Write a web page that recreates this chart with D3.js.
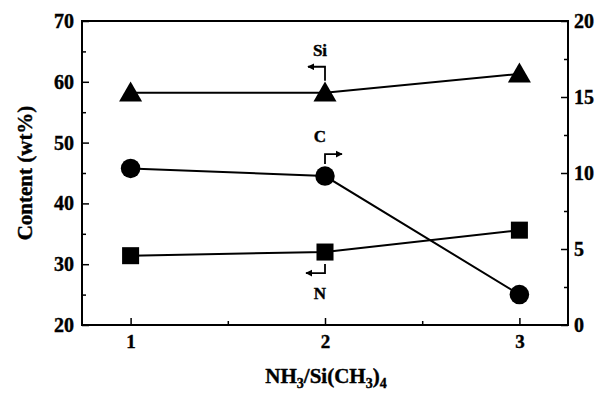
<!DOCTYPE html>
<html>
<head>
<meta charset="utf-8">
<script src="https://cdn.jsdelivr.net/npm/d3@7"></script>
<style>
  body { margin: 0; background: #fff; }
  text { font-family: "Liberation Serif", "Times New Roman", serif; font-weight: bold; fill: #000; stroke: #000; stroke-width: 0.4px; }
</style>
</head>
<body>
<svg id="chart" width="609" height="394"></svg>
<script>
// data
const ratio = [1, 2, 3]
const si = [58.2, 58.2, 61.3]      // wt%, left axis
const n  = [31.4, 32.0, 35.6]      // wt%, left axis
const c  = [10.3, 9.8, 2.0]        // right axis
const xTicks = [1, 2, 3]
const leftTicks = [20, 30, 40, 50, 60, 70]
const rightTicks = [0, 5, 10, 15, 20]

const svg = d3.select('#chart')
const m = {left: 82, right: 568, top: 21, bottom: 325}

const x = d3.scaleLinear().domain([0.75, 3.25]).range([m.left, m.right])
const yL = d3.scaleLinear().domain([20, 70]).range([m.bottom, m.top])
const yR = d3.scaleLinear().domain([0, 20]).range([m.bottom, m.top])

// frame
svg.append('rect')
  .attr('x', m.left).attr('y', m.top)
  .attr('width', m.right - m.left).attr('height', m.bottom - m.top)
  .attr('fill', 'none').attr('stroke', '#000').attr('stroke-width', 2)

function style_axis(g, size) {
  g.select('.domain').remove()
  g.selectAll('line').attr('stroke', '#000').attr('stroke-width', 1.5)
  g.selectAll('text').style('font-size', size + 'px')
}

// minor ticks first, then labelled majors
svg.append('g').attr('transform', `translate(0,${m.bottom})`)
  .call(d3.axisTop(x).tickValues([1.5, 2.5]).tickSize(4).tickFormat(''))
  .call(g => style_axis(g, 16))
svg.append('g').attr('transform', `translate(0,${m.bottom})`)
  .call(d3.axisBottom(x).tickValues(xTicks).tickSize(0).tickPadding(10).tickFormat(d3.format('d')))
  .call(g => style_axis(g, 19))
svg.append('g').attr('transform', `translate(0,${m.bottom})`)
  .call(d3.axisTop(x).tickValues(xTicks).tickSize(7).tickFormat(''))
  .call(g => style_axis(g, 16))

svg.append('g').attr('transform', `translate(${m.left},0)`)
  .call(d3.axisRight(yL).tickValues([25, 35, 45, 55, 65]).tickSize(4).tickFormat(''))
  .call(g => style_axis(g, 16))
svg.append('g').attr('transform', `translate(${m.left},0)`)
  .call(d3.axisRight(yL).tickValues(leftTicks).tickSize(7).tickFormat(''))
  .call(g => style_axis(g, 16))
svg.append('g').attr('transform', `translate(${m.left},0)`)
  .call(d3.axisLeft(yL).tickValues(leftTicks).tickSize(0).tickPadding(8).tickFormat(d3.format('d')))
  .call(g => style_axis(g, 20))

svg.append('g').attr('transform', `translate(${m.right},0)`)
  .call(d3.axisLeft(yR).tickValues([2.5, 7.5, 12.5, 17.5]).tickSize(4).tickFormat(''))
  .call(g => style_axis(g, 16))
svg.append('g').attr('transform', `translate(${m.right},0)`)
  .call(d3.axisLeft(yR).tickValues(rightTicks).tickSize(7).tickFormat(''))
  .call(g => style_axis(g, 16))
svg.append('g').attr('transform', `translate(${m.right},0)`)
  .call(d3.axisRight(yR).tickValues(rightTicks).tickSize(0).tickPadding(6).tickFormat(d3.format('d')))
  .call(g => style_axis(g, 20))

// series
const series = [
  {vals: si, y: yL, sym: d3.symbolTriangle, size: 230},
  {vals: c,  y: yR, sym: d3.symbolCircle,   size: 300},
  {vals: n,  y: yL, sym: d3.symbolSquare,   size: 290}
]
for (var i = 0; i < series.length; i++) {
  const s = series[i]
  const line = d3.line().x((d, j) => x(ratio[j])).y(d => s.y(d))
  svg.append('path').datum(s.vals)
    .attr('fill', 'none').attr('stroke', '#000').attr('stroke-width', 2)
    .attr('d', line)
  svg.selectAll(null).data(s.vals).enter().append('path')
    .attr('transform', (d, j) => `translate(${x(ratio[j])},${s.y(d) + (s.sym === d3.symbolTriangle ? 2 : 0)})`)
    .attr('d', d3.symbol().type(s.sym).size(s.size))
    .attr('fill', '#000')
}

// bent arrows telling which axis each series uses
svg.append('defs').append('marker')
  .attr('id', 'head').attr('viewBox', '0 0 10 10')
  .attr('refX', 9).attr('refY', 5)
  .attr('markerWidth', 4).attr('markerHeight', 4).attr('orient', 'auto')
  .append('path').attr('d', 'M0,0L10,5L0,10Z').attr('fill', '#000')

const arrows = [
  {label: 'Si', at: si[1], y: yL, dy: -26, dx: -17, ly: -42},
  {label: 'C',  at: c[1],  y: yR, dy: -22, dx: 17, ly: -40},
  {label: 'N',  at: n[1],  y: yL, dy: 21, dx: -19, ly: 41}
]
arrows.forEach(a => {
  const x0 = x(2), y0 = a.y(a.at)
  const yStart = y0 + (a.dy < 0 ? -12 : 12)
  svg.append('path')
    .attr('d', `M${x0},${yStart}L${x0},${y0 + a.dy}L${x0 + a.dx},${y0 + a.dy}`)
    .attr('fill', 'none').attr('stroke', '#000').attr('stroke-width', 1.8)
    .attr('marker-end', 'url(#head)')
  svg.append('text')
    .attr('x', x0 - 5).attr('y', y0 + a.ly)
    .attr('text-anchor', 'middle').attr('dominant-baseline', 'central')
    .style('font-size', '17px')
    .text(a.label)
})

// axis titles
svg.append('text')
  .attr('transform', `translate(25,${(m.top + m.bottom) / 2}) rotate(-90)`)
  .attr('text-anchor', 'middle').attr('dominant-baseline', 'central')
  .style('font-size', '21px')
  .text('Content (wt%)')

const xt = svg.append('text')
  .attr('x', (m.left + m.right) / 2 + 1).attr('y', 383)
  .attr('text-anchor', 'middle').style('font-size', '21px')
xt.append('tspan').text('NH')
xt.append('tspan').attr('dy', 5).style('font-size', '14px').text('3')
xt.append('tspan').attr('dy', -5).text('/Si(CH')
xt.append('tspan').attr('dy', 5).style('font-size', '14px').text('3')
xt.append('tspan').attr('dy', -5).text(')')
xt.append('tspan').attr('dy', 5).style('font-size', '14px').text('4')
</script>
</body>
</html>
